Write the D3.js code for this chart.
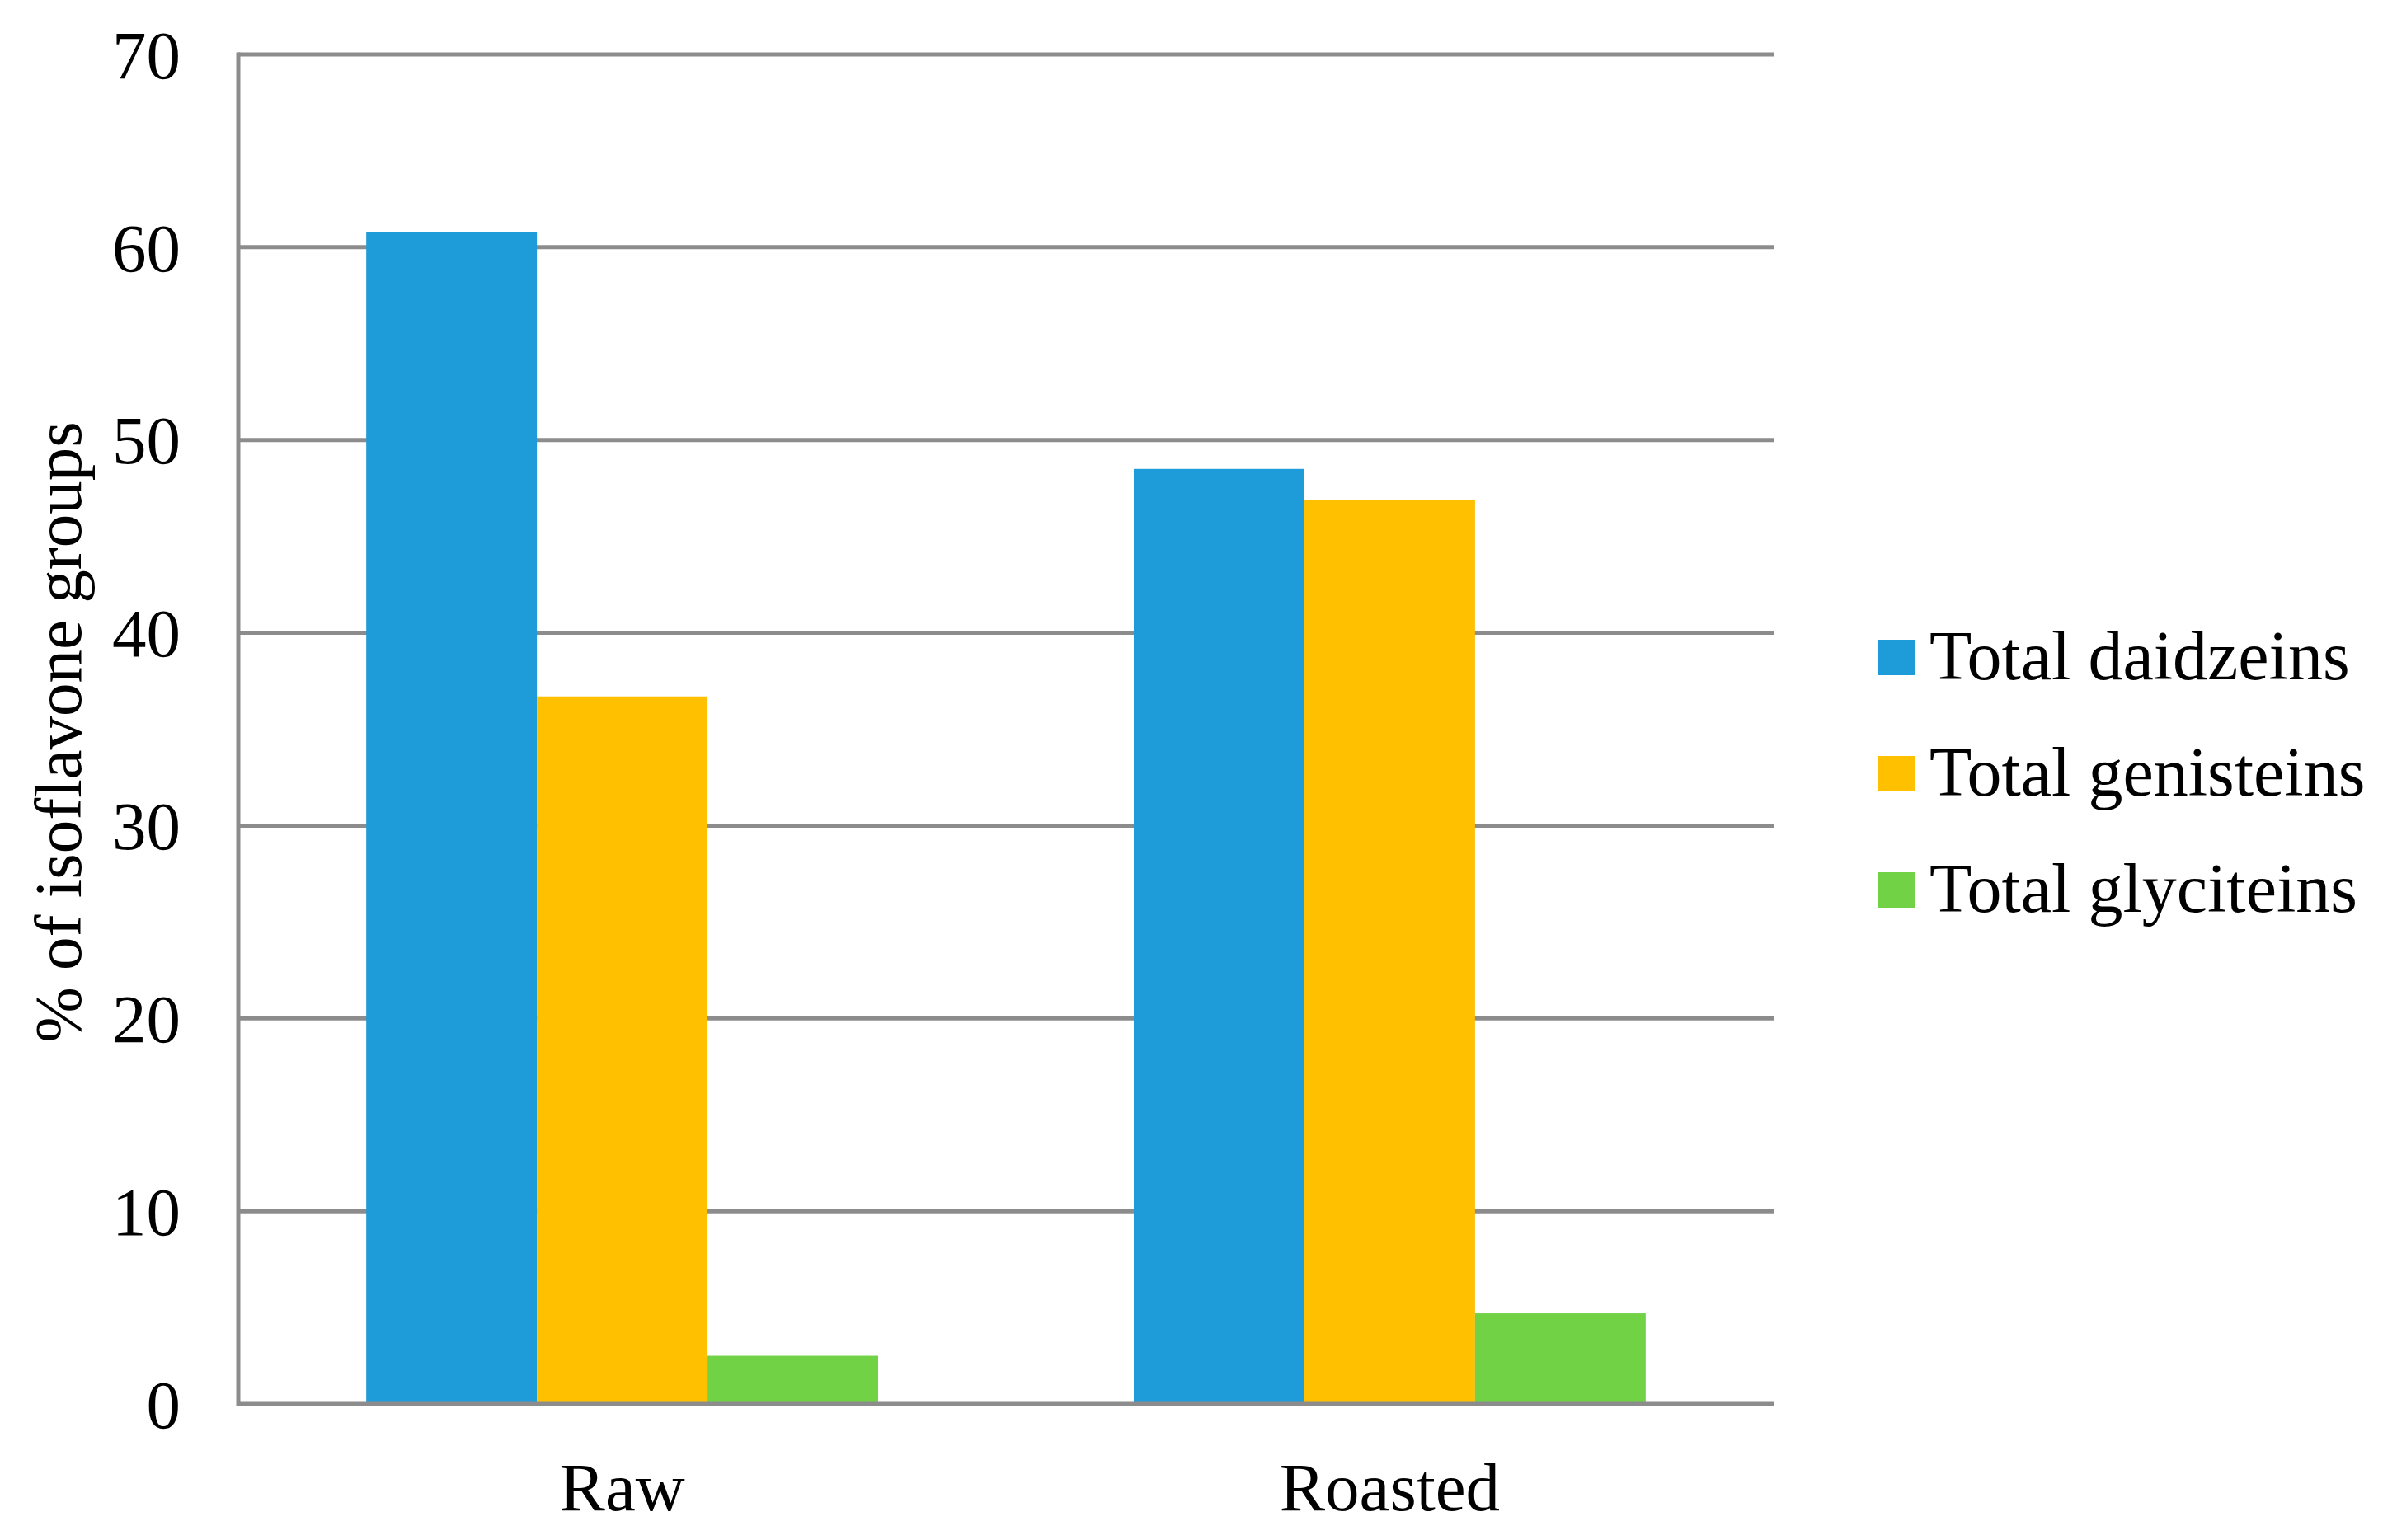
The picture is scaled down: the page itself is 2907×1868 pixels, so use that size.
<!DOCTYPE html>
<html><head><meta charset="utf-8">
<script src="https://cdn.jsdelivr.net/npm/d3@7"></script>
<style>body{margin:0;background:#fff}svg{display:block}text{font-family:"Liberation Serif","Times New Roman",serif;fill:#000}</style>
</head><body>
<script>
const categories = ["Raw", "Roasted"];
const seriesNames = ["Total daidzeins", "Total genisteins", "Total glyciteins"];
const daidzeins = [60.8, 48.5];
const genisteins = [36.7, 46.9];
const glyciteins = [2.5, 4.7];
const yTicks = [0, 10, 20, 30, 40, 50, 60, 70];
const colors = ["#1E9CD9", "#FFC000", "#70D244"];
const yLabel = "% of isoflavone groups";

const seriesValues = [daidzeins, genisteins, glyciteins];
const W = 2907, H = 1868;
const mLeft = 289, mRight = 2151, mTop = 66, mBottom = 1703;
const svg = d3.select("body").append("svg").attr("width", W).attr("height", H);

const y = d3.scaleLinear().domain([0, 70]).range([mBottom, mTop]);
const x0 = d3.scaleBand().domain(categories).range([mLeft, mRight]).paddingInner(0.333).paddingOuter(0.1667);
const x1 = d3.scaleBand().domain(seriesNames).range([0, x0.bandwidth()]).padding(0);

// gridlines
svg.append("g").selectAll("line").data(yTicks.filter(d => d > 0)).join("line")
  .attr("x1", mLeft).attr("x2", mRight)
  .attr("y1", d => y(d)).attr("y2", d => y(d))
  .attr("stroke", "#8C8C8C").attr("stroke-width", 5);

// bars
const groups = svg.append("g").selectAll("g").data(categories).join("g")
  .attr("transform", c => `translate(${x0(c)},0)`);
groups.selectAll("rect").data((c, ci) => seriesNames.map((s, si) => ({s, si, v: seriesValues[si][ci]}))).join("rect")
  .attr("x", d => x1(d.s)).attr("width", x1.bandwidth())
  .attr("y", d => y(d.v)).attr("height", d => y(0) - y(d.v) - 2)
  .attr("fill", d => colors[d.si]);

// axes lines
svg.append("line").attr("x1", mLeft).attr("x2", mLeft).attr("y1", mTop - 2.5).attr("y2", mBottom + 2.5)
  .attr("stroke", "#8C8C8C").attr("stroke-width", 5);
svg.append("line").attr("x1", mLeft).attr("x2", mRight).attr("y1", y(0)).attr("y2", y(0))
  .attr("stroke", "#8C8C8C").attr("stroke-width", 5);

// y tick labels via axis
const yAxis = d3.axisLeft(y).tickValues(yTicks).tickSize(0).tickPadding(0).tickFormat(d3.format("d"));
const ya = svg.append("g").attr("transform", `translate(219,0)`).call(yAxis);
ya.select(".domain").remove();
ya.selectAll("text").attr("font-size", 83).attr("font-family", "Liberation Serif").attr("fill", "#000").attr("dy", "0.34em");

// x labels via axis
const xAxis = d3.axisBottom(x0).tickSize(0).tickPadding(0);
const xa = svg.append("g").attr("transform", `translate(0,1832)`).call(xAxis);
xa.select(".domain").remove();
xa.selectAll("text").attr("font-size", 83).attr("font-family", "Liberation Serif").attr("fill", "#000").attr("dy", 0);

// y label
svg.append("text").attr("transform", `translate(98,888) rotate(-90)`)
  .attr("text-anchor", "middle").attr("font-size", 81).text(yLabel);

// legend
const leg = svg.append("g").selectAll("g").data(seriesNames).join("g")
  .attr("transform", (d, i) => `translate(2278,${776 + i * 141})`);
leg.append("rect").attr("width", 44).attr("height", 43).attr("fill", (d, i) => colors[i]);
leg.append("text").attr("x", 62).attr("y", 48).attr("font-size", 84).text(d => d);
</script>
</body></html>
